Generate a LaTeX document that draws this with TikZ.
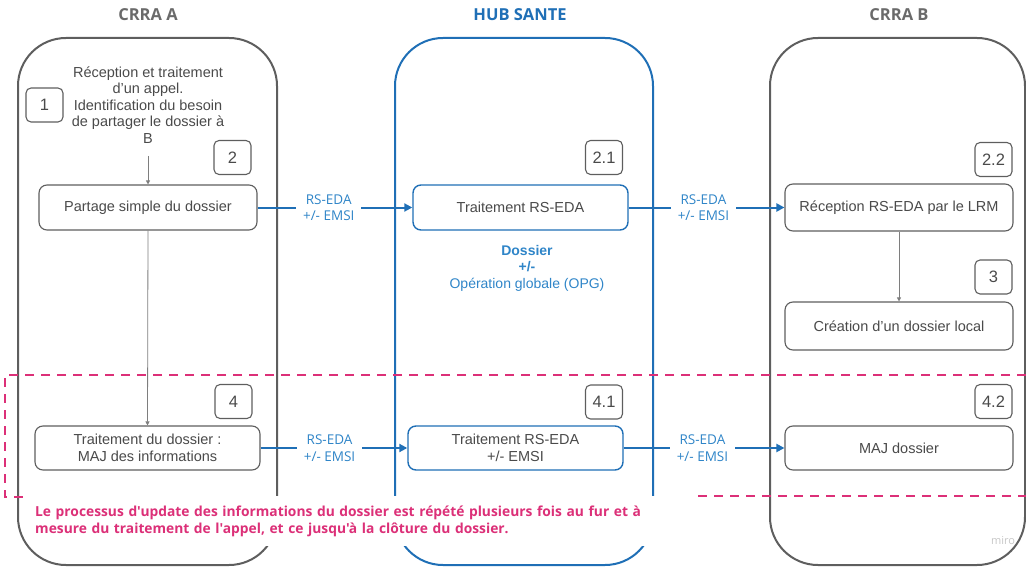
\documentclass[tikz,border=0pt]{standalone}
\usepackage{fontspec}
\setmainfont{Liberation Sans}
\newfontfamily\osans{Open Sans}
\usetikzlibrary{arrows.meta}
\definecolor{cgray}{HTML}{5E5E5E}
\definecolor{tgray}{HTML}{4A4A4A}
\definecolor{ttitle}{HTML}{6A6A6A}
\definecolor{hblue}{HTML}{1F6FB6}
\definecolor{lblue}{HTML}{2F85C8}
\definecolor{pinkc}{HTML}{DC3078}
\begin{document}
\begin{tikzpicture}[x=1pt,y=-1pt,
  container/.style={draw=#1, line width=2pt, rounded corners=48pt, inner sep=0pt},
  stepbox/.style={draw=cgray, line width=1.1pt, rounded corners=8pt, fill=white, text=tgray,
    font=\fontsize{14.5}{17}\selectfont, align=center, inner sep=0pt},
  hubbox/.style={stepbox, draw=hblue, line width=1.4pt},
  badge/.style={draw=cgray, line width=1.1pt, rounded corners=5pt, minimum width=37pt,
    minimum height=34pt, inner sep=0pt, text=tgray, font=\fontsize{16.5}{18}\selectfont},
  title/.style={font=\osans\bfseries\fontsize{16.5}{18}\selectfont},
  lbl/.style={fill=white, text=lblue, font=\osans\fontsize{13.5}{16.5}\selectfont, align=center,
    inner xsep=7pt, inner ysep=1pt},
  barrow/.style={draw=hblue, line width=2pt, -{Triangle[length=8pt,width=8pt]}},
  garrow/.style={draw=cgray!80, line width=0.8pt, -{Triangle[length=4pt,width=4pt]}},
  pdash/.style={draw=pinkc, line width=1.6pt, dash pattern=on 9pt off 7pt}
]
\useasboundingbox (0,0) rectangle (1026,567);
% titles
\node[title, text=ttitle] (ta) at (148,15) {CRRA A};
\node[title, text=hblue] (th) at (520,15) {HUB SANTE};
\node[title, text=ttitle] (tb) at (899,15) {CRRA B};
% containers
\node[container=cgray, minimum width=259pt, minimum height=527pt] (ca) at (147.5,301.5) {};
\node[container=hblue, minimum width=258pt, minimum height=527pt] (hub) at (524,301.5) {};
\node[container=cgray, minimum width=255pt, minimum height=527pt] (cb) at (897.5,301.5) {};
% pink dashed frame
\coordinate (p1) at (1026,375);
\coordinate (p2) at (5,375);
\coordinate (p3) at (5,497);
\coordinate (p4) at (25,497);
\coordinate (p5) at (698,496);
\coordinate (p6) at (1026,496);
\draw[pdash] (p1) -- (p2) -- (p3) -- (p4);
\draw[pdash] (p5) -- (p6);
% CRRA A
\node[text=tgray, font=\fontsize{14.5}{16.5}\selectfont, align=center] (s1) at (148,105)
  {Réception et traitement\\d'un appel.\\Identification du besoin\\de partager le dossier à\\B};
\node[badge] (b1) at (44.5,105) {1};
\node[badge] (b2) at (232.5,157.5) {2};
\node[stepbox, minimum width=218pt, minimum height=45pt] (partage) at (148,207.5) {Partage simple du dossier};
\node[badge] (b4) at (233.5,401.5) {4};
\node[stepbox, minimum width=225pt, minimum height=44pt] (trait) at (147.5,448) {Traitement du dossier :\\MAJ des informations};
\draw[garrow] ([yshift=-9pt]s1.south) -- (partage.north);
\draw[garrow] (partage.south) -- (trait.north);
% HUB
\node[badge] (b21) at (604,157.5) {2.1};
\node[hubbox, minimum width=215pt, minimum height=45pt] (hub1) at (520.5,207.5) {Traitement RS-EDA};
\node[text=lblue, font=\fontsize{14}{16.5}\selectfont, align=center] (dos) at (527,268)
  {\textbf{Dossier}\\\textbf{+/-}\\Opération globale (OPG)};
\node[badge] (b41) at (604,402) {4.1};
\node[hubbox, minimum width=215pt, minimum height=44pt] (hub2) at (515.5,448) {Traitement RS-EDA\\+/- EMSI};
% CRRA B
\node[badge] (b22) at (993.5,159.5) {2.2};
\node[stepbox, minimum width=228pt, minimum height=47pt] (recep) at (899,207.5) {Réception RS-EDA par le LRM};
\node[badge] (b3) at (993.5,277) {3};
\node[stepbox, minimum width=228pt, minimum height=48pt] (creat) at (899,326) {Création d'un dossier local};
\node[badge] (b42) at (993.5,401.5) {4.2};
\node[stepbox, minimum width=228pt, minimum height=44pt] (maj) at (899,448) {MAJ dossier};
\draw[garrow] (recep.south) -- (creat.north);
% blue flows
\draw[barrow] (partage.east) -- node[lbl, pos=0.46] {RS-EDA\\+/- EMSI} (hub1.west);
\draw[barrow] (hub1.east) -- node[lbl, pos=0.48] {RS-EDA\\+/- EMSI} (recep.west);
\draw[barrow] (trait.east) -- node[lbl, pos=0.47] {RS-EDA\\+/- EMSI} (hub2.west);
\draw[barrow] (hub2.east) -- node[lbl, pos=0.49] {RS-EDA\\+/- EMSI} (maj.west);
% note
\node[anchor=north west, fill=white, text=pinkc, minimum height=50pt, text width=624pt,
  inner xsep=4pt, inner ysep=6pt, align=left,
  font=\osans\bfseries\fontsize{13.8}{17}\selectfont] (note) at (31,496)
  {Le processus d'update des informations du dossier est répété plusieurs fois au fur et à\\mesure du traitement de l'appel, et ce jusqu'à la clôture du dossier.};
\node[text=black!22, font=\osans\fontsize{11}{13}\selectfont] (miro) at (1003,541) {miro};
\end{tikzpicture}
\end{document}
